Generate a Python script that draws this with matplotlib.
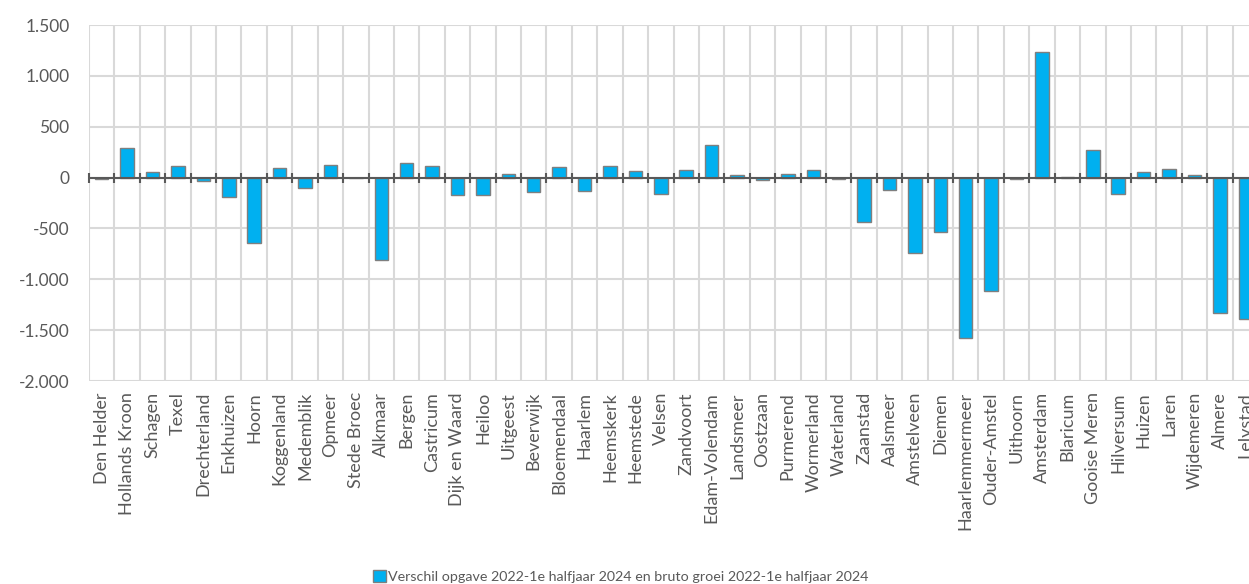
import matplotlib.pyplot as plt
from matplotlib.ticker import FuncFormatter, MultipleLocator

gemeenten = ['Den Helder', 'Hollands Kroon', 'Schagen', 'Texel', 'Drechterland',
             'Enkhuizen', 'Hoorn', 'Koggenland', 'Medemblik', 'Opmeer',
             'Stede Broec', 'Alkmaar', 'Bergen', 'Castricum', 'Dijk en Waard',
             'Heiloo', 'Uitgeest', 'Beverwijk', 'Bloemendaal', 'Haarlem',
             'Heemskerk', 'Heemstede', 'Velsen', 'Zandvoort', 'Edam-Volendam',
             'Landsmeer', 'Oostzaan', 'Purmerend', 'Wormerland', 'Waterland',
             'Zaanstad', 'Aalsmeer', 'Amstelveen', 'Diemen', 'Haarlemmermeer',
             'Ouder-Amstel', 'Uithoorn', 'Amsterdam', 'Blaricum', 'Gooise Meren',
             'Hilversum', 'Huizen', 'Laren', 'Wijdemeren', 'Almere', 'Lelystad']

verschil = [-10, 295, 50, 115, -33, -187, -645, 95, -105, 120,
            -5, -815, 143, 115, -167, -167, 33, -141, 104, -128,
            115, 69, -157, 78, 324, 28, -20, 40, 75, -14,
            -441, -125, -739, -536, -1578, -1114, -15, 1238, 10, 268,
            -164, 55, 81, 30, -1333, -1389]

legend_label = 'Verschil opgave 2022-1e halfjaar 2024 en bruto groei 2022-1e halfjaar 2024'

plt.rcParams['font.family'] = ['Lato', 'DejaVu Sans']
tekst = '#595959'

fig = plt.figure(figsize=(12.49, 5.84), dpi=100)
# axes loopt iets voorbij de rechterrand (Lelystad valt half weg)
ax = fig.add_axes([89 / 1249, 1 - 381 / 584, 1169 / 1249, 356 / 584])

x = list(range(len(gemeenten)))
ax.bar(x, verschil, width=0.53, color='#00B0F0', edgecolor='#7f7f7f',
       linewidth=1.0, zorder=3, label=legend_label)

ax.set_xlim(-0.5, len(gemeenten) - 0.5)
ax.set_ylim(-2000, 1500)
ax.yaxis.set_major_locator(MultipleLocator(500))
ax.yaxis.set_major_formatter(FuncFormatter(lambda v, p: f'{v:,.0f}'.replace(',', '.')))

# scheidingslijnen tussen de gemeenten
grenzen = [i - 0.5 for i in range(len(gemeenten) + 1)]
ax.set_xticks(grenzen, minor=True)
ax.grid(True, which='minor', axis='x', color='#d9d9d9', linewidth=1.5, zorder=0)
ax.grid(True, which='major', axis='y', color='#d9d9d9', linewidth=1.5, zorder=0)

# nullijn met streepjes
ax.axhline(0, color='#595959', linewidth=1.5, zorder=4)
ax.plot(grenzen, [0] * len(grenzen), linestyle='none', marker='|',
        markersize=7, markeredgewidth=1.5, color='#595959', zorder=4, clip_on=False)

ax.set_xticks(x)
ax.set_xticklabels(gemeenten, rotation=90, fontsize=13, color=tekst)
ax.tick_params(axis='x', which='both', length=0, pad=8)
ax.tick_params(axis='y', length=0, pad=14, labelsize=12.5, labelcolor=tekst)
for s in ax.spines.values():
    s.set_visible(False)

fig.legend(loc='lower center', bbox_to_anchor=(0.497, -0.02), frameon=False,
           fontsize=10.3, labelcolor=tekst, handlelength=0.9, handleheight=0.9,
           handletextpad=0.15)

fig.savefig('out.png', dpi=100)
